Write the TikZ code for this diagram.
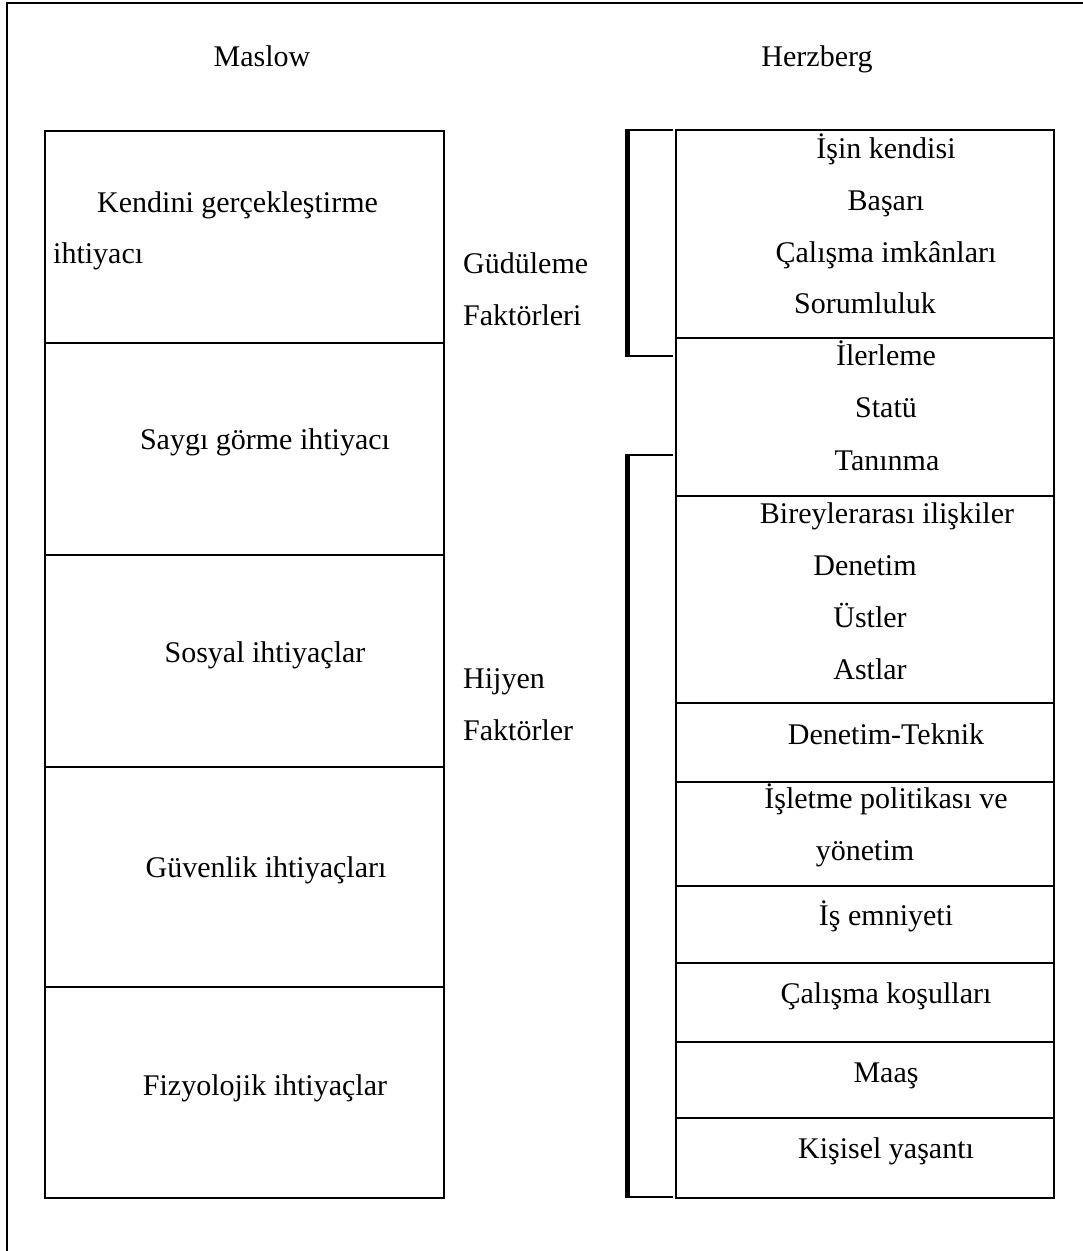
\documentclass[tikz,border=0pt]{standalone}
\usepackage{fontspec}
\setmainfont{Liberation Serif}
\begin{document}
\begin{tikzpicture}[x=1pt,y=-1pt,
  cell/.style={draw, line width=2pt, inner sep=0pt, outer sep=0pt, anchor=north west},
  lbox/.style={cell, minimum width=399pt},
  rbox/.style={cell, minimum width=378pt},
  txt/.style={inner sep=0pt, anchor=base, font=\fontsize{30}{36}\selectfont},
  ltxt/.style={txt, anchor=base west},
  brace/.style={line width=5pt},
  tick/.style={line width=2pt}]
\useasboundingbox (0,0) rectangle (1083,1251);
% outer frame (top and left only)
\draw[line width=2pt] (7,1251) -- (7,2.5) -- (1083,2.5);
% headings
\node[txt] (maslow) at (262,66) {Maslow};
\node[txt] (herz) at (817,66) {Herzberg};
% Maslow boxes
\node[lbox, minimum height=212pt] (L1) at (45,131) {};
\node[lbox, minimum height=212pt] (L2) at (45,343) {};
\node[lbox, minimum height=212pt] (L3) at (45,555) {};
\node[lbox, minimum height=220pt] (L4) at (45,767) {};
\node[lbox, minimum height=211pt] (L5) at (45,987) {};
\node[ltxt] (l1a) at (97,212) {Kendini gerçekleştirme};
\node[ltxt] (l1b) at (53,263) {ihtiyacı};
\node[txt] (l2) at (265,449) {Saygı görme ihtiyacı};
\node[txt] (l3) at (265,662) {Sosyal ihtiyaçlar};
\node[txt] (l4) at (266,877) {Güvenlik ihtiyaçları};
\node[txt] (l5) at (265,1095) {Fizyolojik ihtiyaçlar};
% middle labels
\node[ltxt] (g1) at (463,273) {Güdüleme};
\node[ltxt] (g2) at (463,325) {Faktörleri};
\node[ltxt] (h1) at (463,688) {Hijyen};
\node[ltxt] (h2) at (463,740) {Faktörler};
% Herzberg boxes
\node[rbox, minimum height=208pt] (R1) at (676,130) {};
\node[rbox, minimum height=158pt] (R2) at (676,338) {};
\node[rbox, minimum height=207pt] (R3) at (676,496) {};
\node[rbox, minimum height=79pt] (R4) at (676,703) {};
\node[rbox, minimum height=104pt] (R5) at (676,782) {};
\node[rbox, minimum height=77pt] (R6) at (676,886) {};
\node[rbox, minimum height=79pt] (R7) at (676,963) {};
\node[rbox, minimum height=76pt] (R8) at (676,1042) {};
\node[rbox, minimum height=80pt] (R9) at (676,1118) {};
\node[txt] (r1a) at (886,158) {İşin kendisi};
\node[txt] (r1b) at (886,210) {Başarı};
\node[txt] (r1c) at (886,262) {Çalışma imkânları};
\node[txt] (r1d) at (865,313) {Sorumluluk};
\node[txt] (r2a) at (886,365) {İlerleme};
\node[txt] (r2b) at (886,417) {Statü};
\node[txt] (r2c) at (887,470) {Tanınma};
\node[txt] (r3a) at (887,523) {Bireylerarası ilişkiler};
\node[txt] (r3b) at (865,575) {Denetim};
\node[txt] (r3c) at (870,627) {Üstler};
\node[txt] (r3d) at (870,679) {Astlar};
\node[txt] (r4) at (886,744) {Denetim-Teknik};
\node[txt] (r5a) at (886,808) {İşletme politikası ve};
\node[txt] (r5b) at (865,860) {yönetim};
\node[txt] (r6) at (886,925) {İş emniyeti};
\node[txt] (r7) at (886,1003) {Çalışma koşulları};
\node[txt] (r8) at (886,1082) {Maaş};
\node[txt] (r9) at (886,1158) {Kişisel yaşantı};
% brackets
\draw[brace] (627,130) -- (627,357);
\draw[tick] (625,130) -- (673,130);
\draw[tick] (625,356) -- (673,356);
\draw[brace] (627,455) -- (627,1198);
\draw[tick] (625,455) -- (673,455);
\draw[tick] (625,1197) -- (673,1197);
\end{tikzpicture}
\end{document}
